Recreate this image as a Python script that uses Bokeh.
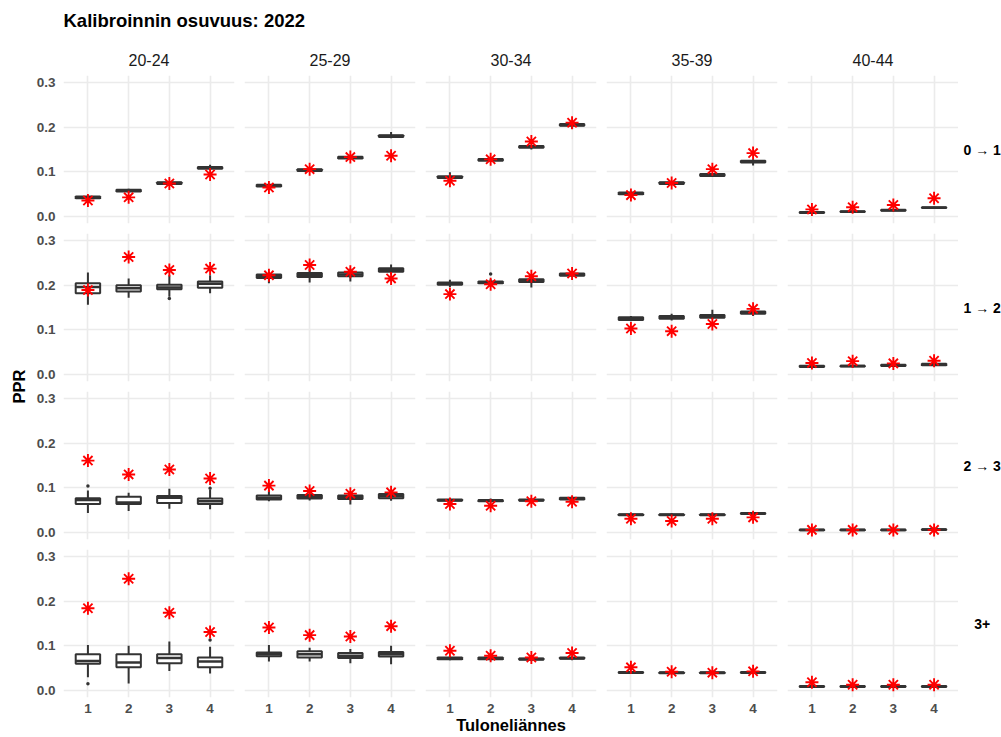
import math
from bokeh.plotting import figure
from bokeh.models import (ColumnDataSource, Range1d, LinearAxis, Grid, FixedTicker,
                          PrintfTickFormatter)
from bokeh.layouts import gridplot, row, column
from bokeh.transform import dodge
from bokeh.embed import file_html
from bokeh.resources import INLINE
from bokeh.core.properties import value

# ---------------- data ----------------
TITLE = "Kalibroinnin osuvuus: 2022"
X_LABEL = "Tuloneliännes"
Y_LABEL = "PPR"
AGE_GROUPS = ["20-24", "25-29", "30-34", "35-39", "40-44"]
TRANSITIONS = ["0 \u2192 1", "1 \u2192 2", "2 \u2192 3", "3+"]
QUARTILES = [1, 2, 3, 4]
Y_TICKS = [0.0, 0.1, 0.2, 0.3]

# each row (transition): 5 age groups x 4 income quartiles
LOWER = [
    [.039, .054, .071, .104, .065, .100, .128, .175, .083, .122, .150, .196, .048, .071, .089, .114, .007, .009, .012, .018],
    [.156, .172, .174, .182, .204, .206, .208, .224, .196, .200, .195, .218, .119, .121, .124, .131, .016, .016, .018, .020],
    [.044, .048, .053, .052, .070, .072, .063, .071, .068, .067, .068, .072, .037, .037, .037, .040, .004, .004, .004, .005],
    [.030, .016, .044, .038, .065, .065, .061, .059, .068, .068, .067, .068, .038, .037, .037, .038, .007, .007, .007, .007],
]
Q1 = [
    [.041, .056, .073, .107, .067, .102, .130, .178, .086, .125, .154, .203, .050, .073, .091, .121, .008, .010, .013, .019],
    [.182, .186, .191, .194, .216, .218, .220, .230, .201, .204, .207, .221, .122, .125, .127, .136, .017, .018, .019, .021],
    [.064, .064, .066, .064, .074, .076, .075, .077, .071, .070, .071, .074, .039, .039, .039, .0415, .005, .005, .005, .006],
    [.060, .052, .061, .052, .077, .074, .073, .076, .070, .070, .069, .071, .0395, .039, .039, .0395, .008, .008, .008, .008],
]
MEDIAN = [
    [.043, .058, .075, .109, .069, .104, .132, .180, .088, .127, .156, .205, .052, .075, .093, .123, .009, .011, .014, .020],
    [.196, .193, .195, .203, .220, .222, .224, .234, .203, .206, .210, .223, .125, .128, .130, .138, .0185, .019, .021, .022],
    [.073, .067, .078, .070, .078, .080, .079, .081, .0725, .0715, .0725, .076, .040, .040, .040, .0425, .006, .006, .006, .0067],
    [.066, .063, .073, .065, .081, .081, .078, .081, .072, .072, .0705, .0725, .0405, .040, .040, .0405, .009, .009, .009, .009],
]
Q3 = [
    [.045, .060, .077, .111, .071, .106, .134, .182, .090, .129, .158, .207, .054, .077, .095, .125, .010, .012, .015, .021],
    [.204, .200, .201, .208, .224, .227, .228, .238, .206, .208, .213, .226, .128, .131, .133, .141, .020, .020, .022, .024],
    [.077, .080, .082, .076, .083, .084, .083, .086, .074, .073, .074, .078, .041, .041, .041, .0435, .007, .007, .007, .0075],
    [.081, .081, .081, .074, .085, .088, .084, .086, .074, .074, .072, .074, .0415, .041, .041, .0415, .010, .010, .010, .010],
]
UPPER = [
    [.047, .062, .079, .116, .073, .108, .136, .189, .099, .132, .161, .210, .056, .079, .097, .128, .011, .013, .016, .022],
    [.228, .215, .222, .222, .230, .237, .237, .246, .212, .213, .217, .229, .131, .136, .145, .144, .021, .022, .023, .025],
    [.094, .089, .098, .096, .096, .090, .089, .092, .077, .076, .077, .080, .043, .043, .043, .045, .008, .008, .008, .009],
    [.102, .100, .110, .098, .102, .096, .093, .100, .077, .077, .075, .077, .043, .043, .043, .043, .011, .011, .011, .011],
]
CALIBRATED = [
    [.036, .043, .074, .094, .065, .106, .133, .136, .080, .128, .168, .210, .048, .075, .106, .142, .016, .021, .026, .041],
    [.189, .263, .234, .237, .222, .245, .230, .215, .180, .202, .220, .226, .103, .097, .113, .147, .026, .030, .025, .031],
    [.161, .130, .141, .121, .105, .093, .087, .090, .064, .060, .070, .069, .031, .026, .031, .034, .006, .006, .006, .006],
    [.184, .250, .174, .131, .141, .124, .121, .144, .089, .078, .074, .084, .052, .042, .040, .043, .0185, .013, .013, .013],
]
# outliers: transition row, age group column, quartile, value
OUT_ROW = [1, 1, 2, 2, 3, 3]
OUT_COL = [0, 2, 0, 0, 0, 0]
OUT_Q = [3, 2, 1, 4, 1, 4]
OUT_VAL = [.170, .225, .104, .099, .015, .113]

# ---------------- style ----------------
FONT = "Liberation Sans"
BOX_LINE = "#333333"
GRID_COLOR = "#EBEBEB"
BOX_W = 0.6
FRAME_W, FRAME_H = 171, 148
GAP = 10
LEFT_AX = 33
BOTTOM_AX = 40
STRIP_H = 27
ROWLAB_W = 43
YLAB_W = 30
TITLE_H = 48


def bare(width, height, xr, yr, left=0, right=0, top=0, bottom=0):
    p = figure(width=width, height=height, x_range=xr, y_range=yr,
               output_backend="svg", toolbar_location=None,
               x_axis_location=None, y_axis_location=None, title=None,
               min_border=0, min_border_left=left, min_border_right=right,
               min_border_top=top, min_border_bottom=bottom)
    p.xgrid.visible = False
    p.ygrid.visible = False
    p.outline_line_color = None
    p.background_fill_color = "white"
    p.border_fill_color = "white"
    return p


def col_borders(c):
    left = LEFT_AX if c == 0 else 0
    right = GAP if c < 4 else 0
    return left, right


grid_children = []

# strip labels (age groups)
strip_row = []
for c, name in enumerate(AGE_GROUPS):
    left, right = col_borders(c)
    s = bare(left + FRAME_W + right, STRIP_H, Range1d(0.4, 4.6), Range1d(0, 1), left=left, right=right)
    s.text(x=[2.5], y=[0.57], text=[name], text_align="center", text_baseline="middle",
           text_font=value(FONT), text_font_size="16px", text_color="#1A1A1A")
    strip_row.append(s)
strip_row.append(None)
grid_children.append(strip_row)

for r, trans in enumerate(TRANSITIONS):
    bottom = GAP if r < 3 else BOTTOM_AX
    prow = []
    for c, age in enumerate(AGE_GROUPS):
        left, right = col_borders(c)
        p = bare(left + FRAME_W + right, FRAME_H + bottom, Range1d(0.4, 4.6),
                 Range1d(-0.0155, 0.3155), left=left, right=right, bottom=bottom)
        p.add_layout(Grid(dimension=0, ticker=FixedTicker(ticks=QUARTILES),
                          grid_line_color=GRID_COLOR, grid_line_width=1.6))
        p.add_layout(Grid(dimension=1, ticker=FixedTicker(ticks=Y_TICKS),
                          grid_line_color=GRID_COLOR, grid_line_width=1.6))
        if c == 0:
            ax = LinearAxis(ticker=FixedTicker(ticks=Y_TICKS),
                            formatter=PrintfTickFormatter(format="%.1f"),
                            axis_line_color=None, major_tick_line_color=None,
                            minor_tick_line_color=None, major_label_standoff=8,
                            major_tick_in=0, major_tick_out=0,
                            major_label_text_font=FONT, major_label_text_font_style="bold",
                            major_label_text_font_size="13.5px", major_label_text_color="#4D4D4D")
            p.add_layout(ax, "left")
        if r == 3:
            bx = LinearAxis(ticker=FixedTicker(ticks=QUARTILES),
                            axis_line_color=None, major_tick_line_color=None,
                            minor_tick_line_color=None, major_label_standoff=6,
                            major_tick_in=0, major_tick_out=0,
                            major_label_text_font=FONT, major_label_text_font_style="bold",
                            major_label_text_font_size="13.5px", major_label_text_color="#4D4D4D")
            if c == 2:
                bx.axis_label = X_LABEL
                bx.axis_label_standoff = 0
                bx.axis_label_text_font = FONT
                bx.axis_label_text_font_size = "16.5px"
                bx.axis_label_text_font_style = "bold"
                bx.axis_label_text_color = "black"
            p.add_layout(bx, "below")
        sl = slice(c * 4, c * 4 + 4)
        src = ColumnDataSource(dict(x=QUARTILES, lo=LOWER[r][sl], q1=Q1[r][sl],
                                    med=MEDIAN[r][sl], q3=Q3[r][sl], hi=UPPER[r][sl],
                                    star=CALIBRATED[r][sl]))
        p.segment(x0="x", y0="q3", x1="x", y1="hi", line_color=BOX_LINE, line_width=2, source=src)
        p.segment(x0="x", y0="q1", x1="x", y1="lo", line_color=BOX_LINE, line_width=2, source=src)
        p.vbar(x="x", width=BOX_W, top="q3", bottom="q1", fill_color="white",
               line_color=BOX_LINE, line_width=2, source=src)
        p.segment(x0=dodge("x", -BOX_W / 2), y0="med", x1=dodge("x", BOX_W / 2), y1="med",
                  line_color=BOX_LINE, line_width=2.5, source=src)
        ox = [q for rr, cc, q in zip(OUT_ROW, OUT_COL, OUT_Q) if rr == r and cc == c]
        oy = [v for rr, cc, v in zip(OUT_ROW, OUT_COL, OUT_VAL) if rr == r and cc == c]
        if ox:
            p.scatter(x=ox, y=oy, marker="circle", size=3.5, fill_color=BOX_LINE, line_color=None)
        p.scatter(x="x", y="star", marker="asterisk", size=13, line_color="#FF0000",
                  line_width=1.9, source=src)
        prow.append(p)
    # row label (transition)
    rl = bare(ROWLAB_W, FRAME_H + bottom, Range1d(0, 1), Range1d(-0.0155, 0.3155), bottom=bottom)
    rl.text(x=[0.55], y=[0.15], text=[trans], text_align="center", text_baseline="middle",
            text_font=value(FONT), text_font_size="14px", text_font_style="bold",
            text_color="black")
    prow.append(rl)
    grid_children.append(prow)

grid = gridplot(grid_children, toolbar_location=None)

grid_h = STRIP_H + 3 * (FRAME_H + GAP) + FRAME_H + BOTTOM_AX
ylab = bare(YLAB_W, grid_h, Range1d(0, 1), Range1d(0, 1), top=STRIP_H, bottom=BOTTOM_AX)
ylab.text(x=[0.63], y=[0.5], text=[Y_LABEL], angle=math.pi / 2, text_align="center",
          text_baseline="middle", text_font=value(FONT), text_font_size="16.5px",
          text_font_style="bold", text_color="black")

total_w = YLAB_W + LEFT_AX + 5 * FRAME_W + 4 * GAP + ROWLAB_W
tf = bare(total_w, TITLE_H, Range1d(0, 1), Range1d(0, 1), left=YLAB_W + LEFT_AX)
tf.text(x=[0], y=[0.583], text=[TITLE], text_align="left", text_baseline="middle",
        text_font=value(FONT), text_font_size="18.5px", text_font_style="bold",
        text_color="black")

layout = column(tf, row(ylab, grid))

open("out.html", "w").write(file_html(layout, INLINE, title=TITLE))
